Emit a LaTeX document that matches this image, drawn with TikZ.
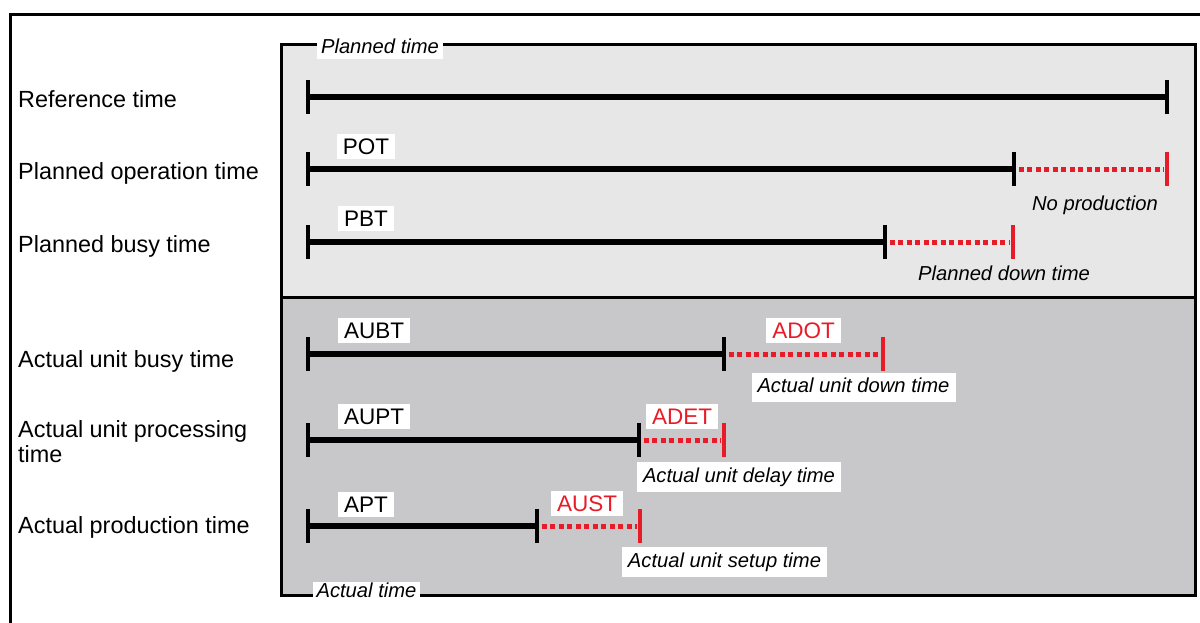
\documentclass[tikz,border=0pt]{standalone}
\usepackage{fontspec}
\setmainfont{Liberation Sans}
\definecolor{myred}{RGB}{232,28,40}
\definecolor{lightbg}{RGB}{231,231,231}
\definecolor{darkbg}{RGB}{200,200,202}
\begin{document}
\begin{tikzpicture}[x=1pt,y=-1pt,
  rowlabel/.style={anchor=base west, inner sep=0pt, font=\fontsize{23.4}{25}\selectfont, align=left},
  tag/.style={fill=white, inner xsep=6pt, inner ysep=4.5pt, text height=16pt, text depth=0pt, font=\fontsize{22.5}{24}\selectfont},
  redtag/.style={tag, text=myred},
  note/.style={fill=white, inner xsep=6pt, inner ysep=5pt, text height=15pt, text depth=4.5pt, font=\fontsize{20.2}{24}\selectfont\itshape},
  plainnote/.style={note, fill=none},
  framelabel/.style={note, inner xsep=4pt, inner ysep=0.75pt},
  bar/.style={line width=6pt},
  gap/.style={line width=5pt, myred, dash pattern=on 5pt off 3.5pt, shorten <=4.5pt, shorten >=3pt},
  btick/.style={line width=4pt},
  rtick/.style={line width=4pt, myred}]

\useasboundingbox (0,0) rectangle (1200,622);
\clip (0,0) rectangle (1200,622);
\fill[white] (0,0) rectangle (1200,622);
% outer frame (cropped at right and bottom)
\draw[line width=3pt] (10,14) rectangle (1230,660);

% inner panels
\fill[lightbg] (281,44) rectangle (1195,297);
\fill[darkbg] (281,297) rectangle (1195,595);
\draw[line width=3pt] (281,44) rectangle (1195,595);
\draw[line width=3pt] (281,297) -- (1195,297);

% row labels
\node[rowlabel] (lref) at (18,107) {Reference time};
\node[rowlabel] (lpot) at (18,179) {Planned operation time};
\node[rowlabel] (lpbt) at (18,252) {Planned busy time};
\node[rowlabel] (laubt) at (18,367) {Actual unit busy time};
\node[rowlabel] (laupt) at (18,462) {Actual unit processing\\time};
\node[rowlabel] (lapt) at (18,533) {Actual production time};

% timeline points
\coordinate (r0) at (308,97);  \coordinate (r1) at (1167,97);
\coordinate (p0) at (308,169); \coordinate (p1) at (1014,169); \coordinate (p2) at (1167,169);
\coordinate (b0) at (308,242); \coordinate (b1) at (885,242);  \coordinate (b2) at (1013,242);
\coordinate (u0) at (308,354); \coordinate (u1) at (724,354);  \coordinate (u2) at (883,354);
\coordinate (v0) at (308,440); \coordinate (v1) at (639,440);  \coordinate (v2) at (724,440);
\coordinate (w0) at (308,526); \coordinate (w1) at (537,526);  \coordinate (w2) at (640,526);

% black bars
\draw[bar] (r0) -- (r1);
\draw[bar] (p0) -- (p1);
\draw[bar] (b0) -- (b1);
\draw[bar] (u0) -- (u1);
\draw[bar] (v0) -- (v1);
\draw[bar] (w0) -- (w1);
% red dotted gaps
\draw[gap] (p1) -- (p2);
\draw[gap] (b1) -- (b2);
\draw[gap] (u1) -- (u2);
\draw[gap] (v1) -- (v2);
\draw[gap] (w1) -- (w2);
% ticks
\foreach \c in {r0,r1,p0,p1,b0,b1,u0,u1,v0,v1,w0,w1}
  \draw[btick] (\c) ++(0,-17) -- ++(0,34);
\foreach \c in {p2,b2,u2,v2,w2}
  \draw[rtick] (\c) ++(0,-17) -- ++(0,34);

% tags
\node[tag] (tpot) at (366,146.5) {POT};
\node[tag] (tpbt) at (366,218.5) {PBT};
\node[tag] (taubt) at (374,330.5) {AUBT};
\node[tag] (taupt) at (374,416.5) {AUPT};
\node[tag] (tapt) at (366,504) {APT};
\node[redtag] (tadot) at (803.5,330.5) {ADOT};
\node[redtag] (tadet) at (682,416) {ADET};
\node[redtag] (taust) at (587,503.5) {AUST};

% notes
\node[plainnote, anchor=base] (nnp) at (1095,210) {No production};
\node[plainnote, anchor=base] (npd) at (1004,280) {Planned down time};
\node[note] (ndown) at (853.5,387.5) {Actual unit down time};
\node[note] (ndelay) at (739,477) {Actual unit delay time};
\node[note] (nsetup) at (724.5,562) {Actual unit setup time};

% frame labels
\node[framelabel] (fplan) at (380,48.5) {Planned time};
\node[framelabel] (fact) at (366.5,592) {Actual time};
\end{tikzpicture}
\end{document}
